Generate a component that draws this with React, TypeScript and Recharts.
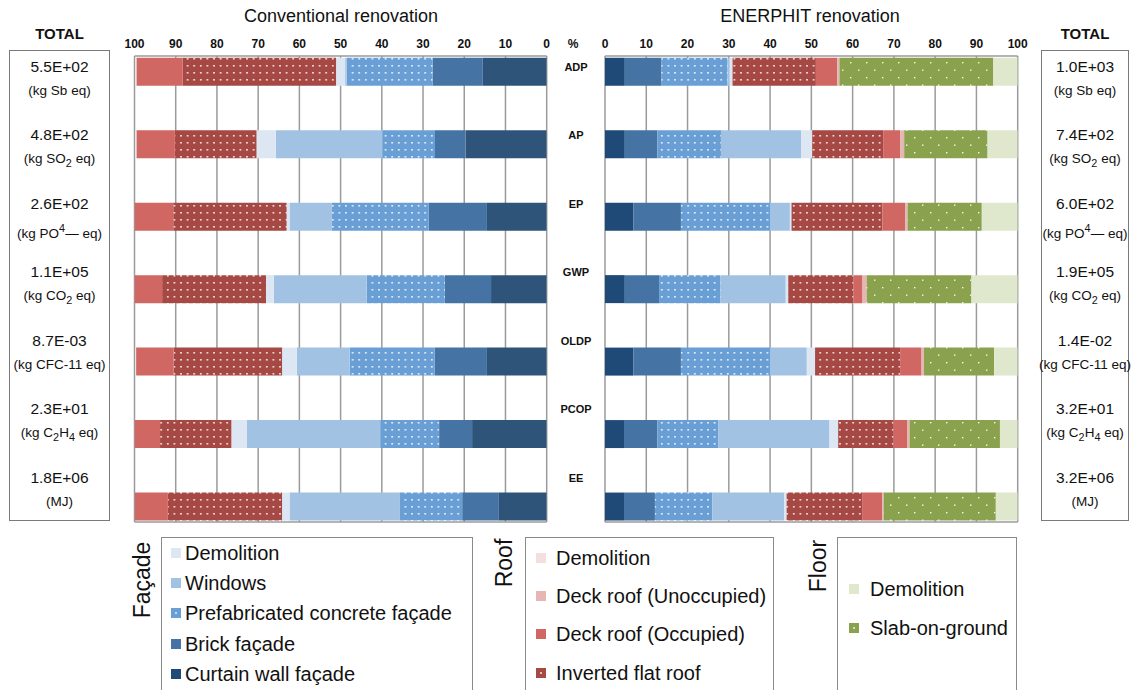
import React from 'react';
import { BarChart, Bar, XAxis, YAxis, CartesianGrid, ReferenceLine } from 'recharts';

const categories = ['ADP', 'AP', 'EP', 'GWP', 'OLDP', 'PCOP', 'EE'];
const xTicks = [0, 10, 20, 30, 40, 50, 60, 70, 80, 90, 100];
const rowTicks = [0, 1, 2, 3, 4, 5, 6];

// Conventional renovation, share of each element (%)
const convCurtainWall = [15.5, 19.7, 14.5, 13.5, 14.5, 18.1, 11.6];
const convBrick = [12.2, 7.4, 14.1, 11.2, 12.7, 8.0, 8.9];
const convPrefab = [20.8, 12.8, 23.5, 19.0, 20.6, 14.3, 15.1];
const convWindows = [0.4, 25.8, 10.3, 22.5, 12.8, 32.4, 26.8];
const convFacadeDemolition = [2.2, 4.7, 0.7, 1.9, 3.6, 3.7, 1.8];
const convInvertedRoof = [37.2, 19.8, 27.5, 25.2, 26.3, 17.3, 27.7];
const convDeckOccupied = [11.2, 9.3, 9.4, 6.7, 9.1, 6.2, 8.0];
const convDeckUnoccupied = [0, 0, 0, 0, 0, 0, 0];
const convRoofDemolition = [0, 0, 0, 0, 0, 0, 0];
const convSlab = [0, 0, 0, 0, 0, 0, 0];
const convFloorDemolition = [0, 0, 0, 0, 0, 0, 0];

// ENERPHIT renovation, share of each element (%)
const enerCurtainWall = [4.8, 4.8, 6.9, 4.8, 6.9, 4.6, 4.6];
const enerBrick = [8.9, 7.9, 11.5, 8.3, 11.5, 8.1, 7.5];
const enerPrefab = [16.0, 15.4, 21.6, 14.9, 21.6, 14.8, 13.9];
const enerWindows = [0.5, 19.4, 4.8, 15.8, 8.9, 26.9, 17.4];
const enerFacadeDemolition = [0.7, 2.7, 0.4, 0.6, 2.0, 2.1, 0.6];
const enerInvertedRoof = [20.2, 17.2, 22.0, 15.8, 20.6, 13.4, 18.3];
const enerDeckOccupied = [5.2, 4.1, 5.5, 2.2, 5.2, 3.4, 4.9];
const enerDeckUnoccupied = [0.5, 1.0, 0.6, 1.0, 0.6, 0.5, 0.3];
const enerRoofDemolition = [0, 0, 0, 0, 0, 0, 0];
const enerSlab = [37.3, 20.2, 18.0, 25.4, 17.0, 21.9, 27.2];
const enerFloorDemolition = [5.9, 7.3, 8.7, 11.2, 5.7, 4.3, 5.3];

const convTotals = ['5.5E+02', '4.8E+02', '2.6E+02', '1.1E+05', '8.7E-03', '2.3E+01', '1.8E+06'];
const enerTotals = ['1.0E+03', '7.4E+02', '6.0E+02', '1.9E+05', '1.4E-02', '3.2E+01', '3.2E+06'];
const units: React.ReactNode[] = [
  <>(kg Sb eq)</>,
  <>(kg SO<sub style={{ fontSize: '0.8em' }}>2</sub> eq)</>,
  <>(kg PO<sup style={{ fontSize: '0.8em' }}>4</sup>— eq)</>,
  <>(kg CO<sub style={{ fontSize: '0.8em' }}>2</sub> eq)</>,
  <>(kg CFC-11 eq)</>,
  <>(kg C<sub style={{ fontSize: '0.8em' }}>2</sub>H<sub style={{ fontSize: '0.8em' }}>4</sub> eq)</>,
  <>(MJ)</>,
];

type Series = { key: string; name: string; group: string; color: string; dot?: { w: number; h: number; s: number; stagger?: boolean } };

// stack order, from the 0 end of each bar
const SERIES: Series[] = [
  { key: 'curtain', name: 'Curtain wall façade', group: 'Façade', color: '#1f4a78' },
  { key: 'brick', name: 'Brick façade', group: 'Façade', color: '#4473a4' },
  { key: 'prefab', name: 'Prefabricated concrete façade', group: 'Façade', color: '#6a9fd5', dot: { w: 6.6, h: 7, s: 1.6 } },
  { key: 'windows', name: 'Windows', group: 'Façade', color: '#a2c2e4' },
  { key: 'facadeDemolition', name: 'Demolition', group: 'Façade', color: '#dde7f3' },
  { key: 'inverted', name: 'Inverted flat roof', group: 'Roof', color: '#a64843', dot: { w: 6.6, h: 7, s: 1.6 } },
  { key: 'deckOccupied', name: 'Deck roof (Occupied)', group: 'Roof', color: '#d06762' },
  { key: 'deckUnoccupied', name: 'Deck roof (Unoccupied)', group: 'Roof', color: '#e6b6b5' },
  { key: 'roofDemolition', name: 'Demolition', group: 'Roof', color: '#f3dfde' },
  { key: 'slab', name: 'Slab-on-ground', group: 'Floor', color: '#8aa24d', dot: { w: 16, h: 15, s: 1.4, stagger: true } },
  { key: 'floorDemolition', name: 'Demolition', group: 'Floor', color: '#dfe8cc' },
];

const convRows = categories.map((c, i) => ({
  idx: i, category: c,
  curtain: convCurtainWall[i], brick: convBrick[i], prefab: convPrefab[i], windows: convWindows[i],
  facadeDemolition: convFacadeDemolition[i], inverted: convInvertedRoof[i], deckOccupied: convDeckOccupied[i],
  deckUnoccupied: convDeckUnoccupied[i], roofDemolition: convRoofDemolition[i], slab: convSlab[i],
  floorDemolition: convFloorDemolition[i],
}));

const enerRows = categories.map((c, i) => ({
  idx: i, category: c,
  curtain: enerCurtainWall[i], brick: enerBrick[i], prefab: enerPrefab[i], windows: enerWindows[i],
  facadeDemolition: enerFacadeDemolition[i], inverted: enerInvertedRoof[i], deckOccupied: enerDeckOccupied[i],
  deckUnoccupied: enerDeckUnoccupied[i], roofDemolition: enerRoofDemolition[i], slab: enerSlab[i],
  floorDemolition: enerFloorDemolition[i],
}));

const FONT = '"Liberation Sans", Arial, Helvetica, sans-serif';
const GRID = '#9b9b9b';
const ROW_TOP = 66.7;
const ROW_PITCH = 68.5;

const RenovationChart = ({ rows, id, reversed, width, margin, curtainColor }: any) => (
  <BarChart width={width} height={540} data={rows} layout="vertical" margin={margin} barCategoryGap={0}>
    <defs>
      {SERIES.filter(s => s.dot).map(s => (
        <pattern key={s.key} id={`${id}-${s.key}`} width={s.dot!.w} height={s.dot!.h} patternUnits="userSpaceOnUse">
          <rect width={s.dot!.w} height={s.dot!.h} fill={s.color} />
          <rect x={2} y={2} width={s.dot!.s} height={s.dot!.s} fill="#ffffff" opacity={0.9} />
          {s.dot!.stagger && (
            <rect x={2 + s.dot!.w / 2} y={2 + s.dot!.h / 2} width={s.dot!.s} height={s.dot!.s} fill="#ffffff" opacity={0.9} />
          )}
        </pattern>
      ))}
    </defs>
    <CartesianGrid horizontal={false} stroke={GRID} strokeWidth={1.5} />
    <XAxis
      type="number"
      orientation="top"
      domain={[0, 100]}
      ticks={xTicks}
      interval={0}
      reversed={reversed}
      allowDataOverflow
      height={26}
      axisLine={{ stroke: GRID, strokeWidth: 1.5 }}
      tickLine={false}
      tick={{ fontSize: 12, fontWeight: 'bold', fill: '#111', fontFamily: FONT }}
    />
    <YAxis type="number" dataKey="idx" domain={[-0.22, 6.21]} ticks={rowTicks} allowDataOverflow hide />
    <ReferenceLine y={6.21} stroke={GRID} strokeWidth={1.5} />
    {SERIES.map(s => (
      <Bar
        key={s.key}
        dataKey={s.key}
        name={s.name}
        stackId="a"
        barSize={28}
        fill={s.dot ? `url(#${id}-${s.key})` : s.key === 'curtain' ? curtainColor : s.color}
        isAnimationActive={false}
      />
    ))}
  </BarChart>
);

const TotalBox = ({ left, top, width, totals }: any) => (
  <>
    <div style={{ position: 'absolute', left, width, top: 25, textAlign: 'center', fontWeight: 'bold', fontSize: 15 }}>TOTAL</div>
    <div style={{ position: 'absolute', left, top, width, height: 521 - top, border: '1px solid #7a7a7a', boxSizing: 'border-box' }} />
    {totals.map((t: string, i: number) => (
      <React.Fragment key={i}>
        <div style={{ position: 'absolute', left: left - 10, width: width + 20, top: ROW_TOP + i * ROW_PITCH - 9, textAlign: 'center', fontSize: 15.5, lineHeight: '18px' }}>{t}</div>
        <div style={{ position: 'absolute', left: left - 10, width: width + 20, top: ROW_TOP + i * ROW_PITCH + 16, textAlign: 'center', fontSize: 13.5, lineHeight: '16px', whiteSpace: 'nowrap' }}>{units[i]}</div>
      </React.Fragment>
    ))}
  </>
);

const Swatch = ({ s }: { s: Series }) => (
  <svg width={10} height={10} style={{ display: 'block', flex: 'none' }}>
    <rect width={10} height={10} fill={s.color} />
    {s.dot && <rect x={4.2} y={4.2} width={1.6} height={1.6} fill="#fff" />}
  </svg>
);

const LegendBox = ({ group, order, left, width, first, pitch, swatchX, textX, label, labelX, labelY }: any) => {
  const items = order.map((k: string) => SERIES.find(s => s.key === k)!);
  return (
    <>
      <div style={{ position: 'absolute', left: labelX, top: labelY, transform: 'translate(-50%, -50%) rotate(-90deg)', fontSize: 23, whiteSpace: 'nowrap' }}>{label}</div>
      <div style={{ position: 'absolute', left, top: 537, width, height: 170, border: '1px solid #8a8a8a', boxSizing: 'border-box' }}>
        {items.map((s: Series, i: number) => (
          <div key={group + s.key} style={{ position: 'absolute', left: 0, top: first + i * pitch - 12, height: 24 }}>
            <div style={{ position: 'absolute', left: swatchX, top: 7 }}><Swatch s={s} /></div>
            <div style={{ position: 'absolute', left: textX, top: 0, fontSize: 20, whiteSpace: 'nowrap', lineHeight: '24px' }}>{s.name}</div>
          </div>
        ))}
      </div>
    </>
  );
};

export default function App() {
  return (
    <div style={{ position: 'absolute', left: 0, top: 0, width: 1134, height: 690, overflow: 'hidden', background: '#fff', fontFamily: FONT, color: '#111' }}>
      <div style={{ position: 'absolute', left: 0, top: 0 }}>
        <RenovationChart rows={convRows} id="conv" reversed width={605} curtainColor="#2f5479"
          margin={{ top: 30, left: 134.5, right: 58.3, bottom: 18 }} />
      </div>
      <div style={{ position: 'absolute', left: 560, top: 0 }}>
        <RenovationChart rows={enerRows} id="ener" reversed={false} width={470} curtainColor="#1f4a78"
          margin={{ top: 30, left: 45, right: 12.3, bottom: 18 }} />
      </div>

      <div style={{ position: 'absolute', left: 341, top: 16, transform: 'translate(-50%, -50%)', fontSize: 18, whiteSpace: 'nowrap' }}>Conventional renovation</div>
      <div style={{ position: 'absolute', left: 810, top: 16, transform: 'translate(-50%, -50%)', fontSize: 18, whiteSpace: 'nowrap' }}>ENERPHIT renovation</div>
      <div style={{ position: 'absolute', left: 573, top: 44, transform: 'translate(-50%, -50%)', fontSize: 12, fontWeight: 'bold' }}>%</div>
      {categories.map((c, i) => (
        <div key={c} style={{ position: 'absolute', left: 576, top: ROW_TOP + i * ROW_PITCH, transform: 'translate(-50%, -50%)', fontSize: 11, fontWeight: 'bold' }}>{c}</div>
      ))}

      <TotalBox left={9} top={50} width={101} totals={convTotals} />
      <TotalBox left={1041} top={50} width={88} totals={enerTotals} />

      <LegendBox group="f" label="Façade" labelX={142} labelY={580} left={161} width={312}
        order={['facadeDemolition', 'windows', 'prefab', 'brick', 'curtain']} first={14.7} pitch={30.3} swatchX={9} textX={23} />
      <LegendBox group="r" label="Roof" labelX={504} labelY={563} left={525} width={249}
        order={['roofDemolition', 'deckUnoccupied', 'deckOccupied', 'inverted']} first={19.7} pitch={38.3} swatchX={10} textX={30} />
      <LegendBox group="fl" label="Floor" labelX={818} labelY={566} left={837} width={180}
        order={['floorDemolition', 'slab']} first={51.3} pitch={38.4} swatchX={11} textX={32} />
    </div>
  );
}
